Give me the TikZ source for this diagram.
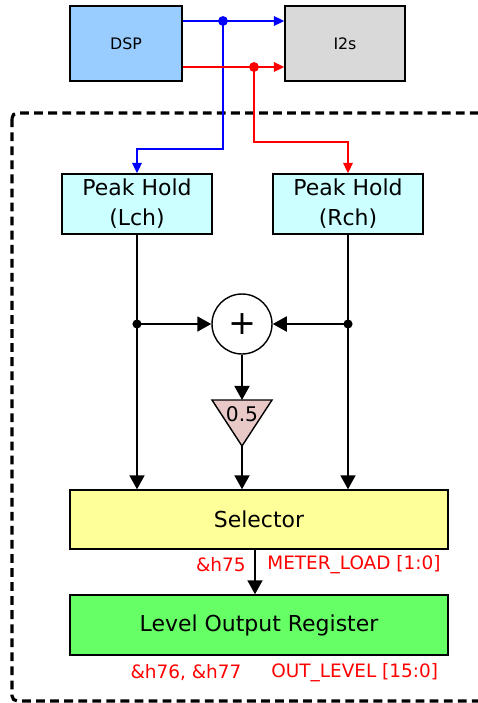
\documentclass[tikz,border=0pt]{standalone}
\usepackage{fontspec}
\setmainfont{DejaVu Sans}
\usepackage{xcolor}
\usetikzlibrary{arrows.meta}
\definecolor{dspblu}{RGB}{153,204,255}
\definecolor{isgray}{RGB}{217,217,217}
\definecolor{peakcy}{RGB}{204,255,255}
\definecolor{selyel}{RGB}{255,255,153}
\definecolor{reggrn}{RGB}{102,255,102}
\definecolor{halfpnk}{RGB}{233,200,200}

\begin{document}
\begin{tikzpicture}[x=0.02cm,y=-0.02cm,
  blk/.style={draw,line width=0.8pt,inner sep=0pt,align=center,font=\fontsize{12.5}{17}\selectfont},
  sig/.style={line width=1.2pt,-{Triangle[length=8pt,width=8.5pt]}},
  csig/.style={line width=0.9pt,-{Triangle[length=6pt,width=5.5pt]}},
  reg/.style={red,font=\fontsize{10.5}{12}\selectfont,inner sep=0pt}]
  \useasboundingbox (0,0) rectangle (477,703);
  % outer frame
  \draw[line width=1.8pt,dash pattern=on 5pt off 3pt,rounded corners=3pt] (12,113) rectangle (500,701);
  % blocks
  \node[blk,fill=dspblu,minimum width=2.24cm,minimum height=1.5cm,font=\fontsize{9}{10}\selectfont] (dsp) at (126,43.5) {DSP};
  \node[blk,fill=isgray,minimum width=2.4cm,minimum height=1.5cm,font=\fontsize{9}{10}\selectfont] (i2s) at (345,43.5) {I2s};
  \node[blk,fill=peakcy,minimum width=3cm,minimum height=1.2cm] (peakL) at (137,204) {Peak Hold\\(Lch)};
  \node[blk,fill=peakcy,minimum width=3cm,minimum height=1.2cm] (peakR) at (348,204) {Peak Hold\\(Rch)};
  \node[draw,circle,line width=0.8pt,fill=white,minimum size=1.2cm,inner sep=0pt,font=\fontsize{19}{20}\selectfont] (sum) at (242,324) {+};
  \filldraw[fill=halfpnk,line width=0.8pt] (212,400) -- (272,400) -- (242,446) -- cycle;
  \node[inner sep=0pt,font=\fontsize{11.5}{12}\selectfont] (half) at (242,414) {0.5};
  \coordinate (halftop) at (242,400);
  \coordinate (halfbot) at (242,446);
  \node[blk,fill=selyel,minimum width=7.56cm,minimum height=1.18cm] (sel) at (259,519.5) {Selector};
  \node[blk,fill=reggrn,minimum width=7.56cm,minimum height=1.2cm] (reg) at (259,625) {Level Output Register};
  % DSP outputs
  \coordinate (bl) at (223,21);
  \coordinate (rd) at (254,67);
  \draw[csig,blue] (dsp.east |- bl) -- (i2s.west |- bl);
  \draw[csig,blue] (bl) -- ++(0,128) -| (peakL.north);
  \draw[csig,red] (dsp.east |- rd) -- (i2s.west |- rd);
  \draw[csig,red] (rd) -- ++(0,75) -| (peakR.north);
  \fill[blue] (bl) circle (2.8pt);
  \fill[red] (rd) circle (2.8pt);
  % peak hold to selector
  \coordinate (jl) at (peakL.south |- sum);
  \coordinate (jr) at (peakR.south |- sum);
  \draw[sig] (peakL.south) -- (peakL.south |- sel.north);
  \draw[sig] (peakR.south) -- (peakR.south |- sel.north);
  \draw[sig] (jl) -- (sum.west);
  \draw[sig] (jr) -- (sum.east);
  \fill (jl) circle (2.6pt); \fill (jr) circle (2.6pt);
  \draw[sig] (sum.south) -- (halftop);
  \draw[sig] (halfbot) -- (halfbot |- sel.north);
  \draw[sig] (sel.south -| 255,0) -- (reg.north -| 255,0);
  % register labels
  \node[reg,anchor=east] (adr75) at (246,565) {\&h75};
  \node[reg,anchor=west] (mload) at (267,565) {METER\_LOAD [1:0]};
  \node[reg] (adr76) at (186,673) {\&h76, \&h77};
  \node[reg,anchor=west] (olevel) at (271,673) {OUT\_LEVEL [15:0]};
\end{tikzpicture}
\end{document}
